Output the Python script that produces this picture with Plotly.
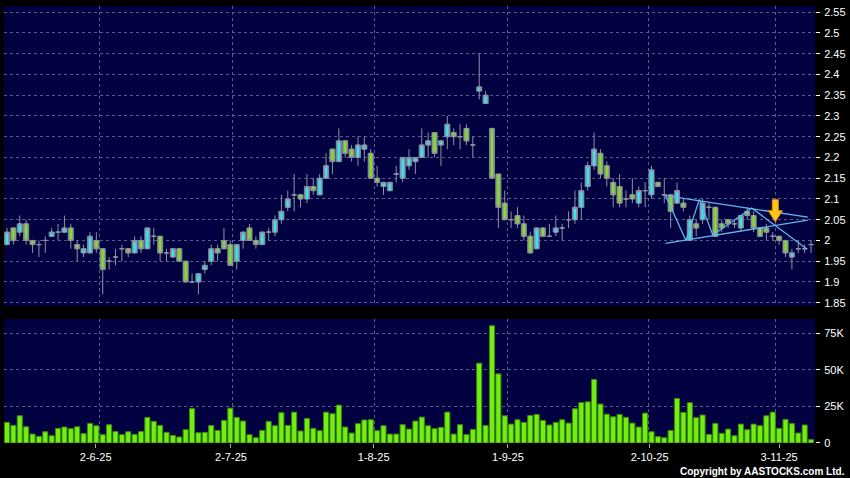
import plotly.graph_objects as go

# ---------------- data ----------------
opens = [1.99, 2.03, 2.02, 2.04, 2.00, 1.99, 2.00, 2.01, 2.02, 2.02,
         2.03, 1.99, 1.97, 1.97, 2.00, 1.98, 1.95, 1.96, 1.98, 1.98,
         1.97, 2.00, 1.98, 2.01, 2.01, 1.97, 1.96, 1.98, 1.95, 1.90,
         1.90, 1.93, 1.95, 1.98, 2.00, 1.99, 1.95, 2.00, 2.03, 2.00,
         1.99, 2.02, 2.02, 2.05, 2.08, 2.11, 2.11, 2.10, 2.13, 2.11,
         2.15, 2.22, 2.19, 2.24, 2.22, 2.20, 2.22, 2.21, 2.15, 2.13,
         2.12, 2.16, 2.15, 2.18, 2.19, 2.20, 2.23, 2.26, 2.23, 2.25,
         2.26, 2.25, 2.27, 2.23, 2.36, 2.33, 2.27, 2.16, 2.09, 2.05,
         2.06, 2.04, 2.01, 1.98, 2.03, 2.01, 2.02, 2.03, 2.05, 2.05,
         2.08, 2.13, 2.18, 2.21, 2.18, 2.14, 2.13, 2.10, 2.11, 2.09,
         2.12, 2.11, 2.14, 2.11, 2.11, 2.09, 2.09, 2.00, 2.04, 2.05,
         2.08, 2.08, 2.04, 2.05, 2.04, 2.03, 2.07, 2.06, 2.03, 2.03,
         2.01, 2.01, 2.00, 1.96, 1.98, 1.98, 1.99]
highs = [2.03, 2.03, 2.06, 2.05, 2.00, 2.00, 2.01, 2.03, 2.04, 2.06,
         2.04, 2.00, 1.99, 2.02, 2.02, 1.98, 1.96, 1.98, 1.99, 1.98,
         2.01, 2.01, 2.03, 2.03, 2.01, 1.98, 1.98, 1.98, 1.95, 1.92,
         1.92, 1.95, 1.99, 1.99, 2.03, 2.00, 1.99, 2.02, 2.04, 2.01,
         2.02, 2.03, 2.06, 2.11, 2.12, 2.16, 2.11, 2.16, 2.15, 2.16,
         2.21, 2.22, 2.27, 2.24, 2.23, 2.25, 2.25, 2.22, 2.18, 2.14,
         2.14, 2.18, 2.20, 2.22, 2.20, 2.27, 2.26, 2.26, 2.24, 2.30,
         2.27, 2.28, 2.28, 2.25, 2.45, 2.36, 2.27, 2.16, 2.12, 2.07,
         2.08, 2.06, 2.02, 2.03, 2.03, 2.04, 2.06, 2.04, 2.07, 2.12,
         2.14, 2.19, 2.26, 2.22, 2.19, 2.15, 2.16, 2.12, 2.15, 2.13,
         2.14, 2.18, 2.14, 2.15, 2.11, 2.14, 2.10, 2.06, 2.05, 2.10,
         2.09, 2.08, 2.05, 2.05, 2.05, 2.06, 2.08, 2.07, 2.03, 2.04,
         2.02, 2.01, 2.00, 1.98, 2.00, 1.99, 2.00]
lows = [1.99, 1.99, 2.01, 1.99, 1.97, 1.96, 1.97, 2.01, 2.00, 2.02,
        1.98, 1.95, 1.96, 1.97, 1.97, 1.87, 1.93, 1.94, 1.95, 1.96,
        1.97, 1.97, 1.98, 1.99, 1.95, 1.95, 1.96, 1.95, 1.90, 1.90,
        1.87, 1.92, 1.94, 1.95, 1.98, 1.94, 1.93, 1.98, 2.00, 1.98,
        1.99, 2.00, 2.01, 2.04, 2.07, 2.07, 2.08, 2.09, 2.11, 2.11,
        2.15, 2.16, 2.19, 2.20, 2.19, 2.18, 2.19, 2.15, 2.13, 2.11,
        2.12, 2.14, 2.14, 2.17, 2.16, 2.20, 2.20, 2.20, 2.18, 2.22,
        2.23, 2.22, 2.23, 2.20, 2.34, 2.33, 2.15, 2.03, 2.05, 2.03,
        2.03, 2.00, 1.97, 1.98, 2.01, 2.01, 2.01, 2.00, 2.03, 2.04,
        2.05, 2.12, 2.17, 2.15, 2.13, 2.08, 2.08, 2.08, 2.09, 2.08,
        2.08, 2.10, 2.13, 2.09, 2.03, 2.09, 2.07, 2.00, 2.01, 2.04,
        2.05, 2.01, 2.02, 2.03, 2.03, 2.02, 2.05, 2.02, 2.01, 2.00,
        2.00, 1.99, 1.96, 1.93, 1.97, 1.97, 1.97]
closes = [2.02, 2.00, 2.04, 2.00, 1.99, 1.99, 2.00, 2.02, 2.02, 2.03,
          2.00, 1.98, 1.98, 2.01, 1.98, 1.93, 1.95, 1.96, 1.98, 1.97,
          2.00, 1.98, 2.03, 2.01, 1.97, 1.97, 1.98, 1.95, 1.90, 1.90,
          1.92, 1.94, 1.98, 1.97, 1.98, 1.94, 1.99, 2.02, 2.00, 1.99,
          2.02, 2.02, 2.05, 2.07, 2.10, 2.11, 2.10, 2.13, 2.12, 2.15,
          2.18, 2.19, 2.24, 2.21, 2.20, 2.23, 2.23, 2.15, 2.14, 2.14,
          2.14, 2.16, 2.20, 2.20, 2.20, 2.23, 2.24, 2.21, 2.24, 2.28,
          2.25, 2.25, 2.24, 2.23, 2.37, 2.35, 2.15, 2.08, 2.05, 2.05,
          2.04, 2.01, 1.97, 2.03, 2.01, 2.01, 2.03, 2.03, 2.05, 2.08,
          2.12, 2.18, 2.22, 2.16, 2.15, 2.11, 2.09, 2.10, 2.10, 2.12,
          2.12, 2.17, 2.13, 2.11, 2.07, 2.12, 2.08, 2.05, 2.03, 2.09,
          2.08, 2.01, 2.03, 2.04, 2.04, 2.06, 2.06, 2.03, 2.01, 2.02,
          2.01, 2.00, 1.97, 1.97, 1.98, 1.98, 1.99]
volumes_k = [14.1, 12.0, 18.6, 11.1, 6.1, 4.5, 7.7, 5.0, 10.0, 10.9,
             9.8, 11.1, 6.4, 13.4, 11.8, 5.7, 12.5, 7.9, 5.7, 7.7,
             5.9, 7.9, 17.5, 14.8, 12.0, 7.3, 5.2, 4.1, 9.1, 23.6,
             7.0, 7.3, 12.0, 8.6, 15.4, 23.8, 17.5, 15.0, 5.7, 3.6,
             8.6, 14.8, 11.8, 20.7, 12.0, 21.1, 8.2, 16.8, 10.0, 8.4,
             21.1, 20.0, 25.9, 10.9, 6.8, 13.2, 15.7, 15.9, 8.4, 11.8,
             6.1, 6.1, 12.5, 9.5, 15.0, 17.7, 11.8, 9.8, 10.7, 21.1,
             6.1, 12.5, 5.7, 9.3, 54.5, 12.0, 80.1, 47.2, 18.6, 12.9,
             15.9, 14.1, 18.8, 19.5, 15.4, 12.3, 14.1, 15.9, 13.6, 23.4,
             27.7, 28.1, 43.4, 26.6, 19.7, 17.9, 19.5, 17.5, 13.6, 10.9,
             20.4, 7.7, 4.3, 3.6, 8.6, 30.4, 20.9, 27.5, 17.3, 19.1,
             5.9, 13.4, 6.6, 9.5, 5.0, 12.9, 9.1, 12.9, 11.8, 18.6,
             21.1, 10.0, 16.1, 13.2, 6.8, 12.3, 2.3]

date_tick_pos = [13.9, 35.1, 57.45, 78.5, 100.7, 121.0]
date_tick_labels = ['2-6-25', '2-7-25', '1-8-25', '1-9-25', '2-10-25', '3-11-25']
date_grid_pos = [14.5, 35.4, 57.6, 78.4, 100.5, 120.4]

price_ticks = [1.85, 1.90, 1.95, 2.00, 2.05, 2.10, 2.15, 2.20, 2.25,
               2.30, 2.35, 2.40, 2.45, 2.50, 2.55]
price_tick_labels = ['1.85', '1.9', '1.95', '2', '2.05', '2.1', '2.15', '2.2',
                     '2.25', '2.3', '2.35', '2.4', '2.45', '2.5', '2.55']
vol_ticks = [0, 25000, 50000, 75000]
vol_tick_labels = ['0', '25K', '50K', '75K']

# triangle pattern drawn on the chart
zigzag_x = [103.2, 106.4, 108.5, 110.6, 116.7, 125.4]
zigzag_y = [2.108, 2.000, 2.099, 2.013, 2.078, 1.979]
upper_x = [103.2, 125.5]
upper_y = [2.108, 2.056]
lower_x = [103.2, 125.5]
lower_y = [1.993, 2.049]
arrow_x = 120.4
arrow_y = 2.045

# ---------------- figure ----------------
x = list(range(len(opens)))
volumes = [v * 1000 for v in volumes_k]

CYAN = '#33e8f4'
GREEN = '#84e31e'
WICK = '#9090a2'
BORDER = '#7c8494'
NAVY = '#010142'
GRID = '#5a5a8c'
LINE = '#5fb6ea'
FONT = 'Liberation Sans, Arial, sans-serif'

fig = go.Figure()
# wicks and doji crosses
fig.add_trace(go.Candlestick(
    x=x, open=opens, high=highs, low=lows, close=closes,
    increasing=dict(fillcolor=CYAN, line=dict(color=WICK, width=1)),
    decreasing=dict(fillcolor=GREEN, line=dict(color=WICK, width=1)),
    whiskerwidth=0, xaxis='x', yaxis='y', hoverinfo='skip'))

# candle bodies (wider, as in the reference)
body_base = [min(o, c) for o, c in zip(opens, closes)]
body_h = [abs(c - o) for o, c in zip(opens, closes)]
body_col = [CYAN if c > o else GREEN for o, c in zip(opens, closes)]
fig.add_trace(go.Bar(x=x, y=body_h, base=body_base,
                     marker=dict(color=body_col, line=dict(color=BORDER, width=1)),
                     xaxis='x', yaxis='y', hoverinfo='skip'))

for lx, ly in [(upper_x, upper_y), (lower_x, lower_y), (zigzag_x, zigzag_y)]:
    fig.add_trace(go.Scatter(x=lx, y=ly, mode='lines',
                             line=dict(color=LINE, width=1.3),
                             xaxis='x', yaxis='y', hoverinfo='skip'))

fig.add_trace(go.Bar(x=x, y=volumes, marker=dict(color='#72ee12',
                     line=dict(color='#3a8a08', width=1)),
                     xaxis='x2', yaxis='y2', hoverinfo='skip'))

fig.add_shape(type='path', xref='x', yref='y', xsizemode='pixel', ysizemode='pixel',
              xanchor=arrow_x, yanchor=arrow_y,
              path='M 0 0 L 7 11 L 3 11 L 3 22 L -3 22 L -3 11 L -7 11 Z',
              fillcolor='#ffc61a', line=dict(color='#e59400', width=1))

axis_common = dict(zeroline=False, showline=False)
fig.update_layout(
    width=850, height=478,
    margin=dict(l=4, r=32, t=6, b=35),
    paper_bgcolor='black', plot_bgcolor=NAVY,
    showlegend=False, bargap=0.2,
    font=dict(family=FONT, color='white', size=11),
    xaxis=dict(domain=[0, 1], anchor='y', range=[-0.47, 126.62],
               showticklabels=False, showgrid=False, ticks='',
               rangeslider=dict(visible=False),
               minor=dict(tickmode='array', tickvals=date_grid_pos, showgrid=True,
                          gridcolor=GRID, griddash='3px,3px', gridwidth=1, ticks=''),
               **axis_common),
    yaxis=dict(domain=[0.3135, 1], anchor='x', side='right', range=[1.842, 2.565],
               tickmode='array', tickvals=price_ticks, ticktext=price_tick_labels,
               ticks='outside', ticklen=4, tickcolor='white', ticklabelstandoff=2,
               showgrid=True, gridcolor=GRID, griddash='3px,3px', gridwidth=1,
               tickfont=dict(size=11, color='white', family=FONT), **axis_common),
    xaxis2=dict(domain=[0, 1], anchor='y2', matches='x', range=[-0.47, 126.62],
                tickmode='array', tickvals=date_tick_pos, ticktext=date_tick_labels,
                ticks='outside', ticklen=4, tickcolor='#aaaaaa', showgrid=False,
                minor=dict(tickmode='array', tickvals=date_grid_pos, showgrid=True,
                           gridcolor=GRID, griddash='3px,3px', gridwidth=1, ticks=''),
                tickfont=dict(size=11, color='white', family=FONT), **axis_common),
    yaxis2=dict(domain=[0, 0.2838], anchor='x2', side='right', range=[0, 84700],
                tickmode='array', tickvals=vol_ticks, ticktext=vol_tick_labels,
                ticks='outside', ticklen=4, tickcolor='white', ticklabelstandoff=2,
                showgrid=True, gridcolor=GRID, griddash='3px,3px', gridwidth=1,
                tickfont=dict(size=11, color='white', family=FONT), **axis_common),
)

fig.add_annotation(text='<b>Copyright by AASTOCKS.com Ltd.</b>', xref='paper', yref='paper',
                   x=1.04, y=-0.066, xanchor='right', yanchor='middle', showarrow=False,
                   font=dict(size=10, color='white', family=FONT))

fig.write_html('out.html', config={'displayModeBar': False},
               post_script="document.body.style.margin='0px';document.body.style.padding='0px';document.body.style.background='black';")
